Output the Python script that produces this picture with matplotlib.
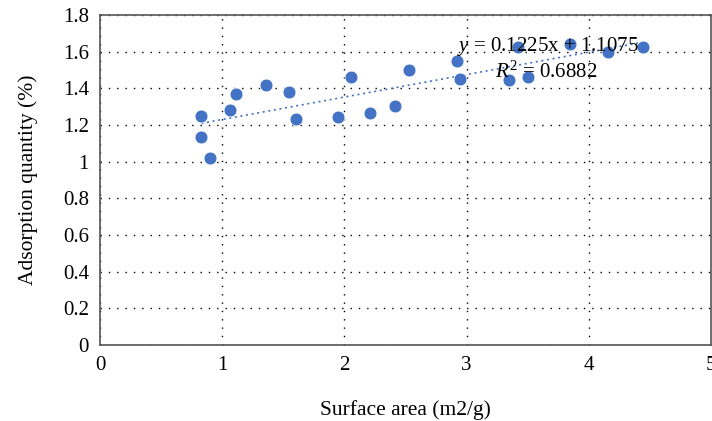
import numpy as np
import matplotlib.pyplot as plt

# surface area (m2/g) vs adsorption quantity (%)
surface_area = [0.83, 0.83, 0.90, 1.06, 1.11, 1.36, 1.55, 1.60, 1.95, 2.05, 2.21,
                2.41, 2.53, 2.92, 2.95, 3.35, 3.42, 3.50, 3.85, 4.16, 4.44]
adsorption = [1.25, 1.135, 1.02, 1.28, 1.37, 1.42, 1.38, 1.235, 1.245, 1.46, 1.265,
              1.305, 1.50, 1.55, 1.45, 1.445, 1.625, 1.46, 1.64, 1.60, 1.625]
slope, intercept, r2 = 0.1225, 1.1075, 0.6882

x_ticks = [0, 1, 2, 3, 4, 5]
y_ticks = [0, 0.2, 0.4, 0.6, 0.8, 1, 1.2, 1.4, 1.6, 1.8]
y_labels = ['0', '0.2', '0.4', '0.6', '0.8', '1', '1.2', '1.4', '1.6', '1.8']

plt.rcParams['font.family'] = ['Liberation Serif', 'DejaVu Serif']
plt.rcParams['mathtext.fontset'] = 'custom'
plt.rcParams['mathtext.rm'] = 'Liberation Serif'
plt.rcParams['mathtext.it'] = 'Liberation Serif:italic'

fig = plt.figure(figsize=(7.12, 4.21), dpi=100)
ax = fig.add_axes([100 / 712, 76 / 421, 611 / 712, 330 / 421])

blue = '#4472C4'
ax.scatter(surface_area, adsorption, s=85, color=blue, edgecolors='white',
           linewidths=0.5, zorder=3)

xs = np.array([min(surface_area), max(surface_area)])
ax.plot(xs, slope * xs + intercept, color=blue, lw=1.2, ls=(0, (1.2, 2.2)), zorder=2)

ax.text(3.67, 1.626, r'$y$ = %.4fx + %.4f' % (slope, intercept), fontsize=15,
        ha='center', va='center', zorder=4)
ax.text(3.65, 1.49, r'$R^2$ = %.4f' % r2, fontsize=15, ha='center', va='center', zorder=4)

ax.set_xlim(0, 5)
ax.set_ylim(0, 1.8)
ax.set_xticks(x_ticks)
ax.set_yticks(y_ticks)
ax.set_yticklabels(y_labels)
ax.tick_params(length=0, labelsize=15, pad=8)
ax.grid(True, color='black', ls=(0, (1, 5)), lw=1.0)

for sp in ax.spines.values():
    sp.set_color('#555555')
    sp.set_linewidth(1.2)

ax.set_xlabel('Surface area (m2/g)', fontsize=15.5, labelpad=18)
ax.set_ylabel('Adsorption quantity (%)', fontsize=15.5, labelpad=18)

fig.savefig('out.png', dpi=100)
